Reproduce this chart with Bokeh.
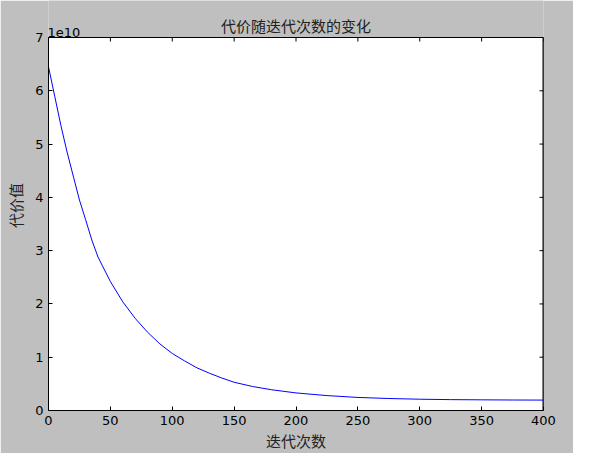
import math
from bokeh.plotting import figure
from bokeh.models import Range1d, FixedTicker, CustomJSTickFormatter
from bokeh.core.properties import value
from bokeh.embed import file_html
from bokeh.resources import INLINE

# Data (cost vs iteration)
iterations = [0, 5, 10, 15, 20, 25, 30, 35, 40, 50, 60, 70, 80, 90, 100,
              110, 120, 130, 140, 150, 165, 180, 200, 225, 250, 275, 300,
              325, 350, 375, 400]
cost = [6.45e10, 5.90e10, 5.35e10, 4.85e10, 4.40e10, 3.95e10, 3.58e10, 3.20e10,
        2.88e10, 2.42e10, 2.04e10, 1.73e10, 1.47e10, 1.25e10, 1.07e10,
        0.93e10, 0.80e10, 0.70e10, 0.61e10, 0.53e10, 0.45e10, 0.39e10,
        0.33e10, 0.28e10, 0.245e10, 0.225e10, 0.212e10, 0.204e10, 0.200e10,
        0.197e10, 0.195e10]
x_ticks = [0, 50, 100, 150, 200, 250, 300, 350, 400]
y_ticks = [0, 1e10, 2e10, 3e10, 4e10, 5e10, 6e10, 7e10]
x_max = 400
y_max = 7e10

title_text = "代价随迭代次数的变化"
x_label = "迭代次数"
y_label = "代价值"
offset_text = "1e10"

CJK = "Noto Sans CJK SC"
NUM = "DejaVu Sans"
BG = "#bfbfbf"
TXT = "#222222"

# layout (pixels): the frame reaches the top of the figure so that the title and
# the "1e10" offset text can float above the white plotting area
FRAME_W = 495
FRAME_H = 410
TOP_GAP = 37          # gray band above the white plotting area
y_top = y_max * FRAME_H / (FRAME_H - TOP_GAP)

p = figure(frame_width=FRAME_W, frame_height=FRAME_H, output_backend="svg", toolbar_location=None,
           x_range=Range1d(0, x_max), y_range=Range1d(0, y_top),
           min_border_left=48, min_border_right=30, min_border_top=0, min_border_bottom=38,
           title=None)
p.background_fill_color = BG
p.border_fill_color = BG
p.outline_line_color = None
p.grid.visible = False

# white plotting area with black frame
p.quad(left=[0], right=[x_max], bottom=[0], top=[y_max], fill_color="white",
       line_color="black", line_width=1)
# right edge (half of a 2px line survives the frame clip)
p.segment(x0=[x_max], y0=[0], x1=[x_max], y1=[y_max], line_color="black", line_width=2)

p.line(iterations, cost, line_color="#0000ff", line_width=1)

# inward ticks on the right and top edges (matplotlib classic style)
p.ray(x=[x_max] * len(y_ticks), y=y_ticks, length=4, length_units="screen",
      angle=math.pi, line_color="black", line_width=1)
p.ray(x=x_ticks, y=[y_max] * len(x_ticks), length=4, length_units="screen",
      angle=-math.pi / 2, line_color="black", line_width=1)

# title and y-axis offset text
p.text(x=[x_max / 2], y=[y_max], text=[title_text], text_font=value(CJK),
       text_font_size="15px", text_color=TXT, text_align="center",
       text_baseline="middle", y_offset=-12)
p.text(x=[0], y=[y_max], text=[offset_text], text_font=value(NUM),
       text_font_size="13px", text_color="black", text_align="left",
       text_baseline="bottom", x_offset=-1, y_offset=-1)

xa = p.xaxis[0]
ya = p.yaxis[0]
xa.ticker = FixedTicker(ticks=x_ticks)
ya.ticker = FixedTicker(ticks=y_ticks)
ya.formatter = CustomJSTickFormatter(code="return (tick/1e10).toFixed(0);")
xa.bounds = (0, x_max)
ya.bounds = (0, y_max)
for ax in (xa, ya):
    ax.axis_line_color = "black"
    ax.axis_line_width = 1
    ax.major_tick_in = 4
    ax.major_tick_out = 0
    ax.minor_tick_line_color = None
    ax.major_tick_line_color = "black"
    ax.major_label_text_font = NUM
    ax.major_label_text_font_size = "13px"
    ax.major_label_text_color = "black"
    ax.major_label_standoff = 5
    ax.axis_label_text_font = CJK
    ax.axis_label_text_font_size = "15px"
    ax.axis_label_text_font_style = "normal"
    ax.axis_label_text_color = TXT
xa.axis_label = x_label
ya.axis_label = y_label
xa.axis_label_standoff = 2
ya.axis_label_standoff = 6

open("out.html", "w").write(file_html(p, INLINE))
